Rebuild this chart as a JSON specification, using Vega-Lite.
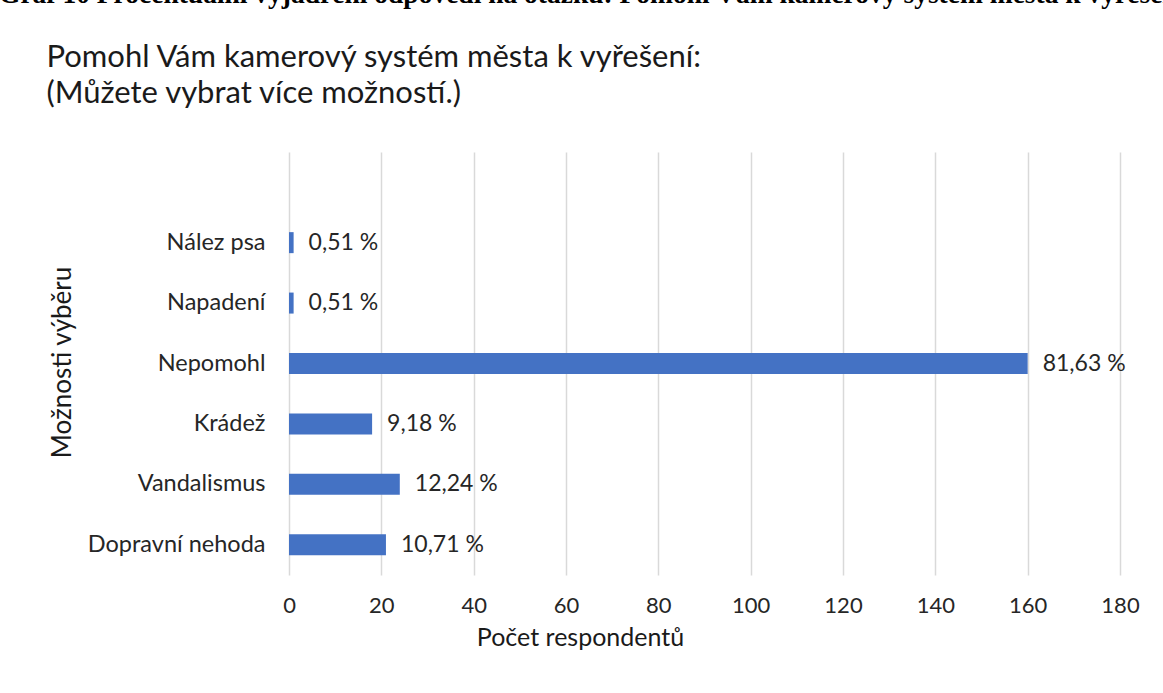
{
  "$schema": "https://vega.github.io/schema/vega-lite/v6.json",
  "width": 831,
  "height": 423,
  "autosize": "none",
  "padding": {"left": 289, "top": 152, "right": 43, "bottom": 118},
  "background": "white",
  "title": {
    "text": "Graf 10 Procentuální vyjádření odpovědí na otázku: Pomohl Vám kamerový systém města k vyřešení",
    "anchor": "start",
    "frame": "group",
    "dx": -290,
    "offset": 33,
    "font": "Liberation Serif",
    "fontSize": 27.5,
    "fontWeight": "bold",
    "color": "#000000",
    "limit": 3000
  },
  "data": {
    "values": [
      {"option": "Nález psa", "count": 1, "label": "0,51 %"},
      {"option": "Napadení", "count": 1, "label": "0,51 %"},
      {"option": "Nepomohl\u00a0", "count": 160, "label": "81,63 %"},
      {"option": "Krádež\u00a0", "count": 18, "label": "9,18 %"},
      {"option": "Vandalismus", "count": 24, "label": "12,24 %"},
      {"option": "Dopravní nehoda", "count": 21, "label": "10,71 %"}
    ]
  },
  "layer": [
    {
      "mark": {"type": "bar", "color": "#4472C4", "size": 21},
      "encoding": {
        "y": {
          "field": "option",
          "type": "nominal",
          "sort": null,
          "scale": {
            "domain": ["", "Nález psa", "Napadení", "Nepomohl\u00a0", "Krádež\u00a0", "Vandalismus", "Dopravní nehoda"],
            "paddingInner": 0,
            "paddingOuter": 0
          },
          "axis": {
            "domain": false,
            "ticks": false,
            "grid": false,
            "labelFont": "Lato",
            "labelFontSize": 23.5,
            "labelColor": "#262626",
            "labelPadding": 24,
            "title": "Možnosti výběru",
            "titleFont": "Lato",
            "titleFontSize": 26,
            "titleFontWeight": "normal",
            "titleColor": "#1a1a1a",
            "titleAngle": -90,
            "titleX": -227,
            "titleY": 210,
            "titleAlign": "center",
            "titleBaseline": "middle"
          }
        },
        "x": {
          "field": "count",
          "type": "quantitative",
          "scale": {"domain": [0, 180], "nice": false},
          "axis": {
            "values": [0, 20, 40, 60, 80, 100, 120, 140, 160, 180],
            "domain": false,
            "ticks": false,
            "grid": true,
            "gridColor": "#d9d9d9",
            "gridWidth": 1.5,
            "labelFlush": false,
            "labelFont": "Lato",
            "labelFontSize": 22,
            "labelColor": "#262626",
            "labelPadding": 20,
            "title": "Počet respondentů",
            "titleFont": "Lato",
            "titleFontSize": 25,
            "titleFontWeight": "normal",
            "titleColor": "#1a1a1a",
            "titleX": 291,
            "titleY": 62,
            "titleAlign": "center",
            "titleBaseline": "middle"
          }
        }
      }
    },
    {
      "mark": {"type": "text", "align": "left", "baseline": "middle", "dx": 15, "font": "Lato", "fontSize": 23, "color": "#262626"},
      "encoding": {
        "y": {"field": "option", "type": "nominal", "sort": null},
        "x": {
          "field": "count",
          "type": "quantitative",
          "axis": {
            "orient": "top",
            "labels": false,
            "ticks": false,
            "domain": false,
            "grid": false,
            "title": ["Pomohl Vám kamerový systém města k vyřešení:", "(Můžete vybrat více možností.)"],
            "titleFont": "Lato",
            "titleFontSize": 31,
            "titleFontWeight": "normal",
            "titleColor": "#1a1a1a",
            "titleLineHeight": 36,
            "titleX": -243,
            "titleY": -86,
            "titleAlign": "left",
            "titleBaseline": "alphabetic",
            "titleLimit": 3000
          }
        },
        "text": {"field": "label"}
      }
    }
  ],
  "resolve": {"axis": {"x": "independent"}},
  "config": {"view": {"stroke": null}}
}
